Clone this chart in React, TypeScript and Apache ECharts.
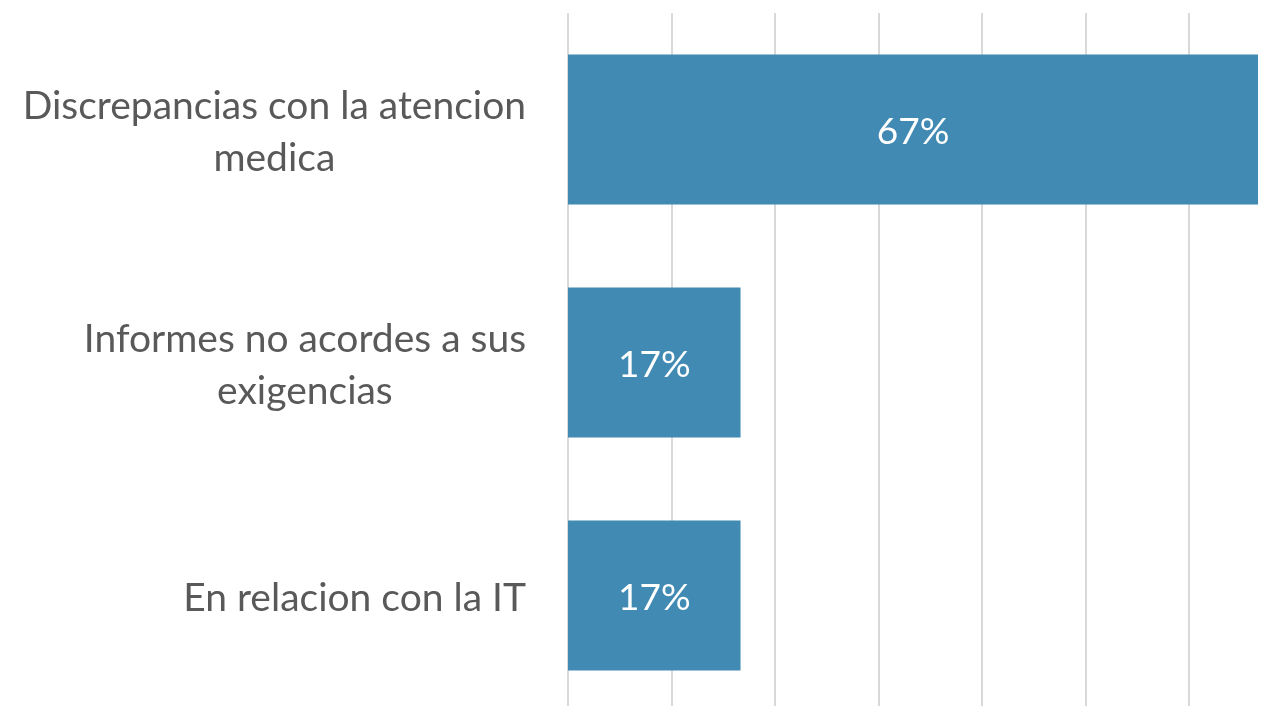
import React, { useEffect, useRef } from "react";
import * as echarts from "echarts";

const categories = [
  "Discrepancias con la atencion\nmedica",
  "Informes no acordes a sus\nexigencias",
  "En relacion con la IT",
];
const values = [0.6667, 0.1667, 0.1667];
const xTicks = [0, 0.1, 0.2, 0.3, 0.4, 0.5, 0.6, 0.7];

const LABEL_FONT = "Lato";
const LABEL_SIZE = 39;

function measure(text: string): number {
  const c = document.createElement("canvas").getContext("2d")!;
  c.font = `${LABEL_SIZE}px ${LABEL_FONT}`;
  return c.measureText(text).width;
}

export default function App() {
  const ref = useRef<HTMLDivElement>(null);
  useEffect(() => {
    document.body.style.margin = "0";
    document.body.style.overflow = "hidden";
    const chart = echarts.init(ref.current!, null, { renderer: "svg" });
    const rich: Record<string, any> = {};
    categories.forEach((cat, i) => {
      const w = Math.max(...cat.split("\n").map(measure)) + 2;
      rich["c" + i] = {
        width: w,
        align: "center",
        color: "#595959",
        fontFamily: LABEL_FONT,
        fontSize: LABEL_SIZE,
        lineHeight: 52,
      };
    });
    chart.setOption({
      animation: false,
      grid: { left: 568, top: 13, width: 724.5, height: 699, containLabel: false },
      xAxis: {
        type: "value",
        min: xTicks[0],
        max: xTicks[xTicks.length - 1],
        interval: 0.1,
        axisLabel: { show: false },
        axisLine: { show: false },
        axisTick: { show: false },
        splitLine: { show: true, lineStyle: { color: "#d9d9d9", width: 2 } },
      },
      yAxis: {
        type: "category",
        inverse: true,
        data: categories,
        axisLine: { show: false },
        axisTick: { show: false },
        axisLabel: {
          margin: 41,
          align: "right",
          rich,
          formatter: (v: string, idx: number) =>
            v
              .split("\n")
              .map((line) => `{c${idx}|${line}}`)
              .join("\n"),
        },
      },
      series: [
        {
          type: "bar",
          data: values,
          barWidth: 150,
          itemStyle: { color: "#418ab3" },
          label: {
            show: true,
            position: "inside",
            color: "#ffffff",
            fontFamily: "Lato",
            fontSize: 37,
            formatter: (p: any) => Math.round(p.value * 100) + "%",
          },
        },
      ],
    });
    return () => chart.dispose();
  }, []);
  return (
    <div
      ref={ref}
      style={{ position: "fixed", left: 0, top: 0, width: 1310, height: 720 }}
    />
  );
}
